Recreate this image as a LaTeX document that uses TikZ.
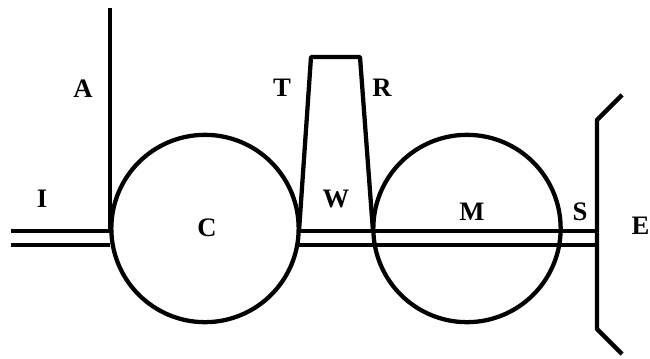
\documentclass[tikz,border=0pt]{standalone}
\usepackage{fontspec}
\setmainfont{Liberation Serif}
\usetikzlibrary{positioning, calc}
\tikzset{
	wall/.style={line width=3.2pt, line join=round},
	lowerwall/.style={line width=3.5pt},
	letter/.style={font=\fontsize{20}{20}\selectfont\bfseries, inner sep=0pt},
	chamber/.style={circle, draw, line width=3.2pt, minimum size=140.5pt, inner sep=0pt, outer sep=0pt},
}
\begin{document}
\begin{tikzpicture}[x=0.75pt, y=-0.75pt]
	\useasboundingbox (0,0) rectangle (650,358);
	% chambers
	\node[chamber] (c) at (205,228.5) {};
	\node[chamber] (m) at (467,228.5) {};
	\coordinate (axis) at (110,8);
	\coordinate (i1) at (11,231.3);
	\coordinate (i2) at (11,245);
	\coordinate (c1) at (110,231.3);
	\coordinate (c2) at (110,245);
	\coordinate (w1) at (298,231.3);
	\coordinate (w2) at (298,245);
	\coordinate (e1) at (597,231.3);
	\coordinate (e2) at (597,245);
	\coordinate (tl) at (299,231.3);
	\coordinate (tt) at (311,57);
	\coordinate (rt) at (360,57);
	\coordinate (rb) at (373,231.3);
	\coordinate (eb) at (597,120);
	\coordinate (ef) at (622,95);
	\coordinate (ec) at (597,329);
	\coordinate (eg) at (622,354);
	% walls
	\draw[wall] (i1) -- (c1);
	\draw[lowerwall] (i2) -- (c2);
	\draw[wall] (axis) -- (c1);
	\draw[wall] (w1) -- (e1);
	\draw[lowerwall] (w2) -- (e2);
	\draw[wall] (tl) -- (tt) -- (rt) -- (rb);
	\draw[wall] (ef) -- (eb) -- (ec) -- (eg);
	% labels
	\node[letter] (li) at (42,199) {I};
	\node[letter] (la) at (83,89) {A};
	\node[letter] (lc) at (207,228) {C};
	\node[letter] (lt) at (282,88) {T};
	\node[letter] (lr) at (382,88) {R};
	\node[letter] (lw) at (336,199) {W};
	\node[letter] (lm) at (472,212) {M};
	\node[letter] (ls) at (580,212) {S};
	\node[letter] (le) at (640.5,226) {E};
\end{tikzpicture}
\end{document}
